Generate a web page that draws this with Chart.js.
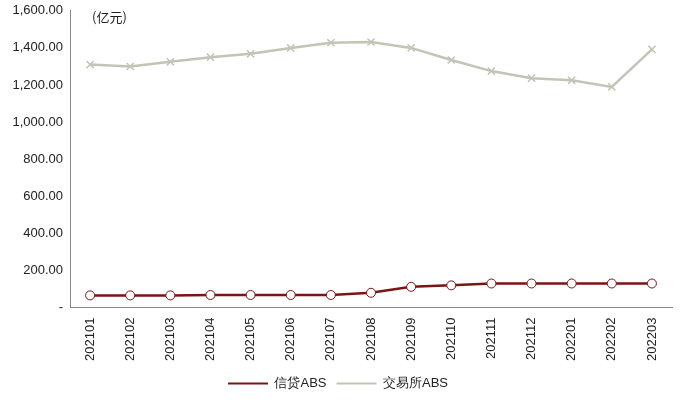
<!DOCTYPE html>
<html><head><meta charset="utf-8">
<script src="https://cdn.jsdelivr.net/npm/chart.js@4"></script>
<style>body{margin:0;background:#fff}#w{width:700px;height:404px}</style>
</head><body><div id="w"><canvas id="c"></canvas></div>
<script>
const categories=['202101','202102','202103','202104','202105','202106','202107','202108','202109','202110','202111','202112','202201','202202','202203'];
const creditABS=[66,66,66,68,68,68,68,80,112,120,130,130,130,130,130];
const exchangeABS=[1310,1300,1325,1350,1368,1400,1428,1432,1400,1335,1275,1237,1225,1190,1392];
const unitLabel='(亿元)';
Chart.defaults.font.family='"Liberation Sans",Arial,sans-serif';
Chart.defaults.font.size=13;
Chart.defaults.color='#333';
new Chart(document.getElementById('c'),{
 type:'line',
 data:{labels:categories,datasets:[
  {label:'信贷ABS',data:creditABS,borderColor:'#7b1414',backgroundColor:'#fff',borderWidth:2.5,pointStyle:'circle',pointRadius:4.5,pointBorderWidth:1,pointBorderColor:'#7b1414',tension:0},
  {label:'交易所ABS',data:exchangeABS,borderColor:'#c2c5b5',backgroundColor:'#c2c5b5',borderWidth:2.5,pointStyle:'crossRot',pointRadius:5,pointBorderWidth:1.5,tension:0}
 ]},
 options:{responsive:true,maintainAspectRatio:false,animation:false,
  layout:{padding:{left:4,right:28,top:6,bottom:4}},
  plugins:{legend:{position:'bottom',labels:{usePointStyle:false,boxWidth:40,boxHeight:2,color:'#222',padding:10,
     generateLabels(ch){return Chart.defaults.plugins.legend.labels.generateLabels(ch).map(l=>({...l,fillStyle:l.strokeStyle,lineWidth:0}));}}},
   tooltip:{enabled:false}},
  scales:{
   x:{offset:true,grid:{display:false,offset:true,tickLength:4},border:{color:'#888'},ticks:{maxRotation:90,minRotation:90,color:'#222',padding:6}},
   y:{min:0,max:1600,afterFit(s){s.width=66;},grid:{display:false,tickLength:4},border:{color:'#888'},
      ticks:{stepSize:200,color:'#222',callback:v=>v===0?'-':v.toLocaleString('en-US',{minimumFractionDigits:2,maximumFractionDigits:2})}}
  }},
 plugins:[{id:'unit',afterDraw(ch){const c=ch.ctx;c.save();c.font='13px "Noto Sans CJK SC"';c.fillStyle='#222';c.textBaseline='middle';c.fillText(unitLabel,ch.chartArea.left+22,ch.chartArea.top+6);c.restore();}}]
});
</script></body></html>
